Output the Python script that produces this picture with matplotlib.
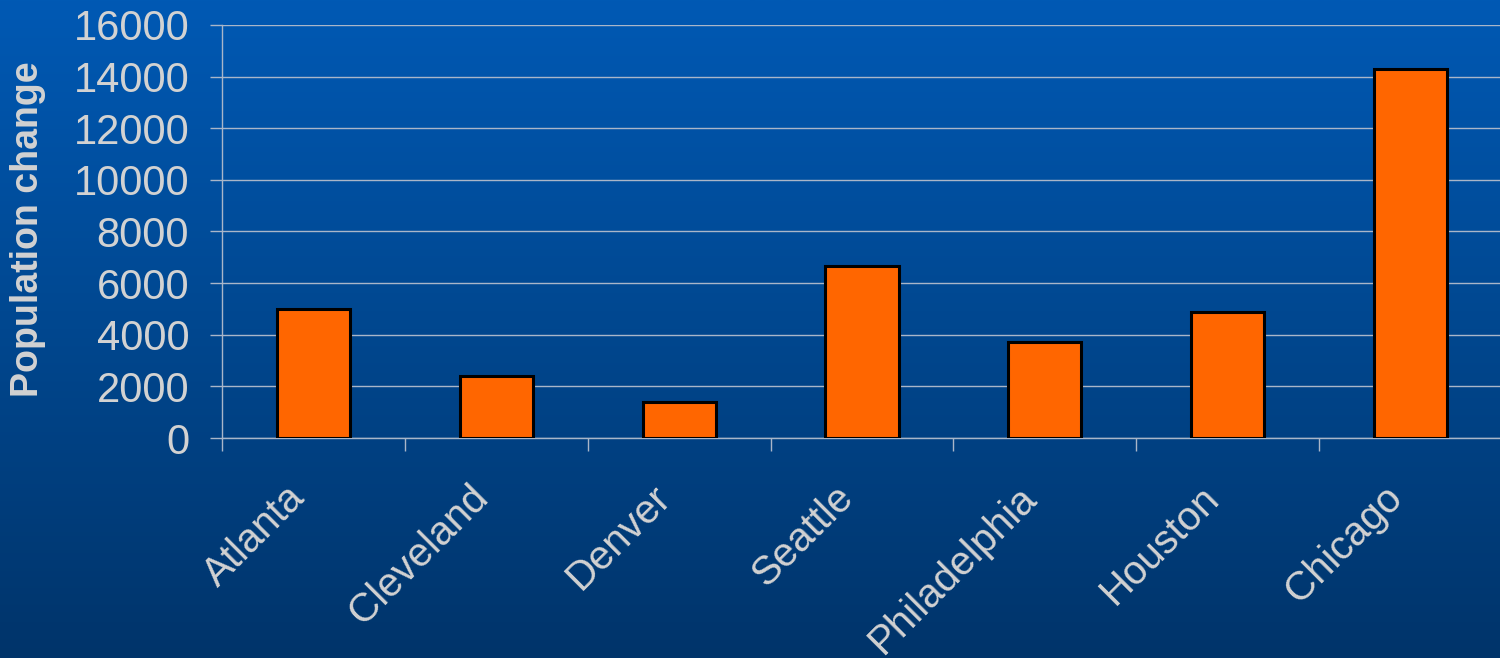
import numpy as np
import matplotlib
matplotlib.use("Agg")
import matplotlib.pyplot as plt
from matplotlib.colors import LinearSegmentedColormap
from matplotlib.transforms import ScaledTranslation

cities = ["Atlanta", "Cleveland", "Denver", "Seattle", "Philadelphia", "Houston", "Chicago"]
population_change = [5000, 2400, 1400, 6650, 3700, 4900, 14300]
y_ticks = [0, 2000, 4000, 6000, 8000, 10000, 12000, 14000, 16000]

plt.rcParams['font.family'] = ['Liberation Sans', 'DejaVu Sans']

W, H = 1500, 658
fig = plt.figure(figsize=(W / 100, H / 100), dpi=100)

# gradient background
bg = fig.add_axes([0, 0, 1, 1], zorder=-10)
cmap = LinearSegmentedColormap.from_list("bg", ["#0059b4", "#00478f", "#00346a"])
grad = np.linspace(0, 1, 256).reshape(-1, 1)
bg.imshow(grad, aspect="auto", cmap=cmap, extent=[0, 1, 0, 1], origin="upper")
bg.set_axis_off()

text_color = "#d2d2d2"
line_color = "#a9b6c9"

left = 222 / W
right = 1502 / W
bottom = 1 - 438 / H
top = 1 - 25 / H
ax = fig.add_axes([left, bottom, right - left, top - bottom])
ax.patch.set_alpha(0)

x = np.arange(len(cities))
ax.bar(x, population_change, width=0.4, color="#ff6600", edgecolor="black", linewidth=2.2, zorder=3)

ax.set_xlim(-0.5, len(cities) - 0.5)
ax.set_ylim(0, 16000)
ax.set_yticks(y_ticks)
ax.set_yticklabels([str(v) for v in y_ticks])
ax.yaxis.grid(True, color=line_color, linewidth=1.0, zorder=1)
ax.set_axisbelow(True)

ax.set_xticks(x)
ax.set_xticklabels(cities, rotation=45, ha="right", va="top", rotation_mode="anchor")
ax.set_xticks(np.arange(-0.5, len(cities), 1.0), minor=True)
ax.tick_params(axis="x", which="major", length=0, pad=29, labelsize=29, labelcolor=text_color)
ax.tick_params(axis="x", which="minor", length=9.5, width=1.0, color=line_color, direction="out")
ax.tick_params(axis="y", length=8.6, width=1.0, color=line_color, direction="out", pad=15, labelsize=30, labelcolor=text_color)

shift = ScaledTranslation(-0.28, 0, fig.dpi_scale_trans)
for lbl in ax.get_xticklabels():
    lbl.set_transform(lbl.get_transform() + shift)

for s in ["top", "right"]:
    ax.spines[s].set_visible(False)
ax.spines["left"].set_color(line_color)
ax.spines["bottom"].set_color(line_color)
ax.spines["left"].set_linewidth(1.0)
ax.spines["bottom"].set_linewidth(1.0)

ax.set_ylabel("Population change", fontsize=27, fontweight="bold", color=text_color)
ax.yaxis.set_label_coords(-176 / (right - left) / W, (438 - 229) / (438 - 25))

fig.savefig("out.png", dpi=100)
